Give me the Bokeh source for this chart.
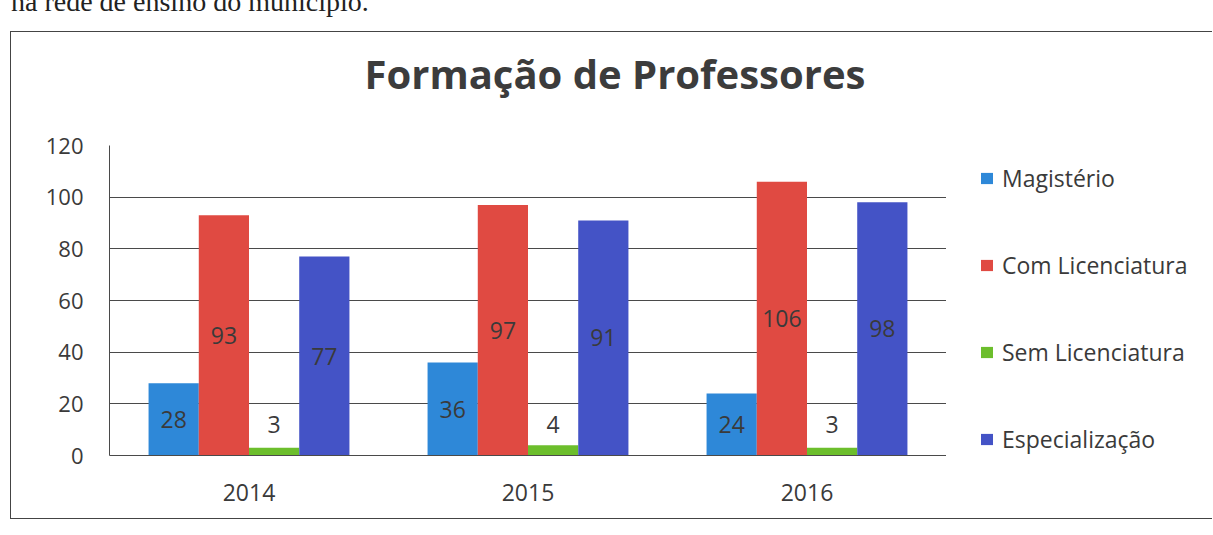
from bokeh.plotting import figure
from bokeh.models import ColumnDataSource, Legend, LegendItem, Spacer, Title, Div
from bokeh.layouts import column, row
from bokeh.transform import dodge
from bokeh.embed import file_html
from bokeh.resources import INLINE
from bokeh.core.properties import value

years = ["2014", "2015", "2016"]
series_names = ["Magistério", "Com Licenciatura", "Sem Licenciatura", "Especialização"]
magisterio = [28, 36, 24]
com_lic = [93, 97, 106]
sem_lic = [3, 4, 3]
especializacao = [77, 91, 98]
y_ticks = [0, 20, 40, 60, 80, 100, 120]

colors = ["#2E88D8", "#E04A42", "#6CBE2C", "#4453C6"]
offsets = [-0.27, -0.09, 0.09, 0.27]
series_values = [magisterio, com_lic, sem_lic, especializacao]

FONT = "Open Sans"
TXT = "#3a3a3a"
H = 486

p = figure(x_range=years, y_range=(0, 120), width=935, height=H,
           output_backend="svg", toolbar_location=None,
           min_border_left=98, min_border_right=0,
           min_border_top=113, min_border_bottom=63)
p.outline_line_color = None
p.background_fill_color = "white"

# empty filler title (next to the frame) then the real title above it
gap = Title(text=" ", text_font=FONT, text_font_size="10px", standoff=19)
p.add_layout(gap, "above")
t = Title(text="Formação de Professores", align="left", offset=255,
          text_font=FONT, text_font_size="40px", text_font_style="bold",
          text_color="#3c3c3c", standoff=20)
p.add_layout(t, "above")

for name, vals, col, off in zip(series_names, series_values, colors, offsets):
    lab_y = [max(v / 2.0, 12) for v in vals]
    src = ColumnDataSource(dict(x=years, top=vals, lab=[str(v) for v in vals], ly=lab_y))
    p.vbar(x=dodge("x", off, range=p.x_range), top="top", width=0.18,
           source=src, fill_color=col, line_color=None)
    p.text(x=dodge("x", off, range=p.x_range), y="ly", text="lab", source=src,
           text_align="center", text_baseline="middle", text_font=value(FONT),
           text_font_size="23px", text_color=TXT)

p.xgrid.grid_line_color = None
p.ygrid.grid_line_color = "#4a4a4a"
p.ygrid.grid_line_width = 1.2
p.yaxis.ticker = y_ticks
p.yaxis.axis_line_color = "#4a4a4a"
p.xaxis.axis_line_color = "#4a4a4a"
p.yaxis.major_tick_line_color = None
p.yaxis.minor_tick_line_color = None
p.xaxis.major_tick_line_color = None
p.yaxis.major_label_text_font = FONT
p.xaxis.major_label_text_font = FONT
p.yaxis.major_label_text_font_size = "22px"
p.xaxis.major_label_text_font_size = "23px"
p.yaxis.major_label_text_color = TXT
p.xaxis.major_label_text_color = TXT
p.yaxis.major_label_standoff = 20
p.xaxis.major_label_standoff = 22
p.x_range.range_padding = 0.0

# legend panel (frame is aligned with the main plot's frame)
p2 = figure(width=266, height=H, x_range=(0, 1), y_range=(0, 1),
            output_backend="svg", toolbar_location=None,
            x_axis_location=None, y_axis_location=None,
            min_border=0)
p2.outline_line_color = None
p2.grid.grid_line_color = None
items = []
for name, col in zip(series_names, colors):
    r = p2.vbar(x=[10], top=[10], width=0.1, fill_color=col, line_color=None)
    items.append(LegendItem(label=name, renderers=[r]))
legend = Legend(items=items, location=(33, 0), margin=0, padding=0,
                spacing=55, glyph_width=15, glyph_height=14, label_standoff=8,
                label_text_font=FONT, label_text_font_size="23px",
                label_text_color=TXT, border_line_color=None,
                background_fill_alpha=0)
p2.add_layout(legend, "center")

header = Div(text='<div style="position:absolute;left:6px;top:-17px;'
                  'font-family:\'Liberation Serif\';font-size:28px;line-height:28px;'
                  'white-space:nowrap;color:#222">na rede de ensino do município.</div>',
             width=700, height=21)

box = row(p, p2)
box.styles = {"border-top": "1px solid #444", "border-left": "1px solid #444",
              "border-bottom": "1px solid #444"}
layout = column(header, row(Spacer(width=10), box))
open("out.html", "w").write(file_html(layout, INLINE))
